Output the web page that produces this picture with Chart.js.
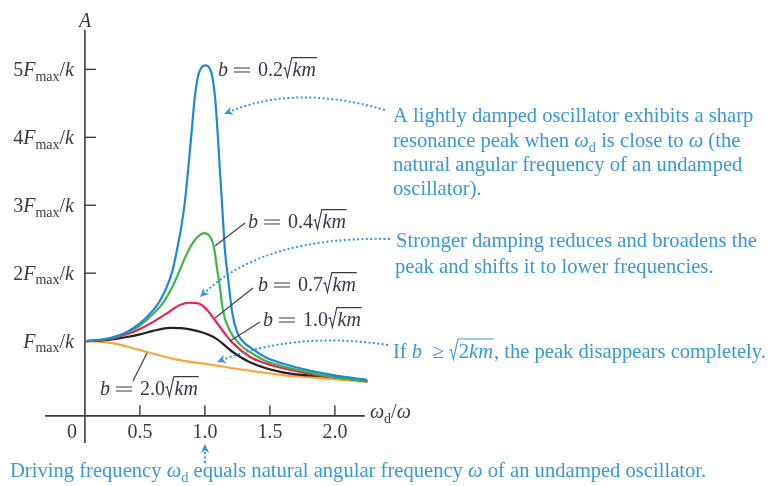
<!DOCTYPE html>
<html>
<head>
<meta charset="utf-8">
<script src="https://cdn.jsdelivr.net/npm/chart.js@4.4.1/dist/chart.umd.min.js"></script>
<style>
  html, body { margin: 0; padding: 0; background: #ffffff; }
  #c { display: block; }
</style>
</head>
<body>
<canvas id="c" width="775" height="486"></canvas>
<script>
// ---------- data (A in units of Fmax/k versus wd/w) ----------
const b02X = [0.077,0.20,0.30,0.40,0.50,0.60,0.65,0.70,0.75,0.785,0.82,0.846,0.873,0.897,0.92,0.95,1.00,1.05,1.08,1.098,1.114,1.13,1.154,1.18,1.21,1.25,1.30,1.346,1.477,1.60,1.73,1.985,2.246];
const b02Y = [1.00,1.02,1.06,1.135,1.26,1.45,1.58,1.77,2.03,2.34,2.70,3.05,3.56,4.06,4.55,4.92,5.06,4.95,4.55,4.06,3.56,3.08,2.34,1.90,1.42,1.12,0.98,0.91,0.75,0.67,0.60,0.50,0.43];

const b04X = [0.077,0.20,0.30,0.40,0.50,0.60,0.677,0.75,0.808,0.85,0.908,0.96,1.00,1.035,1.062,1.077,1.092,1.115,1.138,1.19,1.27,1.38,1.477,1.60,1.73,1.985,2.246];
const b04Y = [1.00,1.02,1.056,1.125,1.23,1.40,1.56,1.80,2.05,2.24,2.45,2.56,2.59,2.55,2.44,2.30,2.09,1.80,1.46,1.16,0.95,0.80,0.70,0.63,0.57,0.47,0.41];

const b07X = [0.077,0.20,0.30,0.40,0.50,0.60,0.70,0.808,0.88,0.94,0.985,1.038,1.092,1.15,1.215,1.346,1.47,1.60,1.862,2.115,2.25];
const b07Y = [1.00,1.015,1.045,1.10,1.18,1.28,1.40,1.53,1.565,1.56,1.52,1.41,1.27,1.12,0.97,0.77,0.67,0.60,0.50,0.45,0.41];

const b10X = [0.077,0.20,0.30,0.40,0.50,0.60,0.731,0.82,0.938,1.02,1.092,1.215,1.346,1.60,1.985,2.25];
const b10Y = [1.00,1.012,1.03,1.06,1.10,1.15,1.195,1.19,1.15,1.10,1.03,0.84,0.69,0.54,0.47,0.41];

const b20X = [0.077,0.20,0.292,0.40,0.554,0.808,1.062,1.215,1.60,1.985,2.25];
const b20Y = [1.00,0.99,0.97,0.92,0.84,0.72,0.65,0.60,0.50,0.44,0.40];

const seriesColors = ['#1e88d2', '#3db54a', '#e8234f', '#222222', '#f7a73a'];

const xTickValues = [0.5, 1.0, 1.5, 2.0];
const xTickLabels = ['0.5', '1.0', '1.5', '2.0'];
const yTickValues = [1, 2, 3, 4, 5];
const yTickCoef   = ['', '2', '3', '4', '5'];

// ---------- helpers ----------
const SERIF = '"Liberation Serif","Times New Roman",Times,serif';
function pts(xs, ys) { return xs.map((x, i) => ({ x: x, y: ys[i] })); }

function fontFor(style, size) {
  const sub = (style === 'sub' || style === 'subi');
  const it = (style === 'i' || style === 'subi');
  const s = sub ? size * 0.7 : size;
  return (it ? 'italic ' : '') + s.toFixed(1) + 'px ' + SERIF;
}
function radParts(text) {
  const out = [];
  for (const ch of text) {
    const st = /[0-9]/.test(ch) ? 'r' : 'i';
    if (out.length && out[out.length - 1][1] === st) out[out.length - 1][0] += ch;
    else out.push([ch, st]);
  }
  return out;
}
function segWidth(ctx, seg, size) {
  const [t, st] = seg;
  if (st === 'rad') {
    let w = 0;
    for (const p of radParts(t)) { ctx.font = fontFor(p[1], size); w += ctx.measureText(p[0]).width; }
    return w + size * 0.48 + size * 0.04;
  }
  if (st === 'gap') return size * parseFloat(t);
  if (st === 'eq') return size * 0.8;
  ctx.font = fontFor(st, size);
  return ctx.measureText(t).width;
}
function drawRich(ctx, segs, x, y, size, color, align) {
  let total = 0;
  for (const s of segs) total += segWidth(ctx, s, size);
  let cx = x;
  if (align === 'right') cx = x - total;
  else if (align === 'center') cx = x - total / 2;
  ctx.save();
  ctx.fillStyle = color; ctx.strokeStyle = color;
  ctx.textBaseline = 'alphabetic'; ctx.textAlign = 'left';
  for (const s of segs) {
    const [t, st] = s;
    if (st === 'gap') { cx += size * parseFloat(t); continue; }
    if (st === 'eq') {
      ctx.lineWidth = 1.2;
      ctx.beginPath();
      ctx.moveTo(cx, y - size * 0.20); ctx.lineTo(cx + size * 0.8, y - size * 0.20);
      ctx.moveTo(cx, y - size * 0.40); ctx.lineTo(cx + size * 0.8, y - size * 0.40);
      ctx.stroke();
      cx += size * 0.8;
      continue;
    }
    if (st === 'rad') {
      const r0 = cx;
      let w = 0;
      const parts = radParts(t);
      for (const p of parts) { ctx.font = fontFor(p[1], size); w += ctx.measureText(p[0]).width; }
      ctx.lineWidth = 1.1;
      ctx.beginPath();
      ctx.moveTo(r0 + size * 0.03, y - size * 0.36);
      ctx.lineTo(r0 + size * 0.11, y - size * 0.42);
      ctx.lineTo(r0 + size * 0.22, y + size * 0.06);
      ctx.lineTo(r0 + size * 0.44, y - size * 0.92);
      ctx.lineTo(r0 + size * 0.48 + w + size * 0.04, y - size * 0.92);
      ctx.stroke();
      let px = r0 + size * 0.48;
      for (const p of parts) {
        ctx.font = fontFor(p[1], size);
        ctx.fillText(p[0], px, y);
        px += ctx.measureText(p[0]).width;
      }
      cx = px + size * 0.04;
      continue;
    }
    ctx.font = fontFor(st, size);
    const dy = (st === 'sub' || st === 'subi') ? size * 0.24 : 0;
    ctx.fillText(t, cx, y + dy);
    cx += ctx.measureText(t).width;
  }
  ctx.restore();
}
function dottedArrow(ctx, p0, c, p2, color) {
  ctx.save();
  ctx.strokeStyle = color; ctx.fillStyle = color;
  ctx.lineWidth = 2; ctx.setLineDash([2, 2.4]);
  const dx = p2[0] - c[0], dy = p2[1] - c[1];
  const L = Math.hypot(dx, dy), ux = dx / L, uy = dy / L;
  const tipBack = [p2[0] - ux * 6, p2[1] - uy * 6];
  ctx.beginPath();
  ctx.moveTo(p0[0], p0[1]);
  ctx.quadraticCurveTo(c[0], c[1], tipBack[0], tipBack[1]);
  ctx.stroke();
  ctx.setLineDash([]);
  const hl = 9, hw = 4.2;
  ctx.beginPath();
  ctx.moveTo(p2[0], p2[1]);
  ctx.lineTo(p2[0] - ux * hl - uy * hw, p2[1] - uy * hl + ux * hw);
  ctx.lineTo(p2[0] - ux * hl * 0.7, p2[1] - uy * hl * 0.7);
  ctx.lineTo(p2[0] - ux * hl + uy * hw, p2[1] - uy * hl - ux * hw);
  ctx.closePath();
  ctx.fill();
  ctx.restore();
}
function line(ctx, x1, y1, x2, y2, color, w) {
  ctx.save(); ctx.strokeStyle = color; ctx.lineWidth = w;
  ctx.beginPath(); ctx.moveTo(x1, y1); ctx.lineTo(x2, y2); ctx.stroke(); ctx.restore();
}

const AXIS = '#3a3a3a';
const LABEL = '#34384c';
const NOTE = '#3897d6';

const axesPlugin = {
  id: 'customAxes',
  beforeDatasetsDraw(chart) {
    const ctx = chart.ctx, xs = chart.scales.x, ys = chart.scales.y;
    const yAxisX = xs.getPixelForValue(0.077);
    const xAxisY = ys.getPixelForValue(-0.1);
    line(ctx, xs.getPixelForValue(xs.min), xAxisY, xs.getPixelForValue(2.23), xAxisY, AXIS, 1.6);
    line(ctx, yAxisX, ys.getPixelForValue(ys.max), yAxisX, ys.getPixelForValue(ys.min), AXIS, 1.6);
    xTickValues.forEach(v => {
      const p = xs.getPixelForValue(v);
      line(ctx, p, xAxisY, p, xAxisY - 10.5, AXIS, 1.4);
    });
    yTickValues.forEach(v => {
      const p = ys.getPixelForValue(v);
      line(ctx, yAxisX, p, yAxisX + 11, p, AXIS, 1.4);
    });
  },
  afterDatasetsDraw(chart) {
    const ctx = chart.ctx, xs = chart.scales.x, ys = chart.scales.y;
    const S = 20, N = 20.6;
    xTickValues.forEach((v, i) => {
      drawRich(ctx, [[xTickLabels[i], 'r']], xs.getPixelForValue(v), 438, S, AXIS, 'center');
    });
    drawRich(ctx, [['0', 'r']], xs.getPixelForValue(0) - 3, 438, S, AXIS, 'center');
    yTickValues.forEach((v, i) => {
      const segs = [];
      if (yTickCoef[i]) segs.push([yTickCoef[i], 'r']);
      segs.push(['F', 'i'], ['max', 'sub'], ['/', 'r'], ['k', 'i']);
      drawRich(ctx, segs, 74, ys.getPixelForValue(v) + 6.5, S, AXIS, 'right');
    });
    drawRich(ctx, [['A', 'i']], 85, 27, S, AXIS, 'center');
    drawRich(ctx, [['\u03c9', 'i'], ['d', 'sub'], ['/', 'r'], ['\u03c9', 'i']], 370, 418, S, AXIS, 'left');

    const lab = (txt, x, y) => drawRich(ctx, [['b', 'i'], ['0.3', 'gap'], ['', 'eq'], ['0.4', 'gap'], [txt, 'r'], ['km', 'rad']], x, y, S, LABEL, 'left');
    lab('0.2', 218, 76);
    lab('0.4', 248, 228);
    lab('0.7', 258, 291);
    lab('1.0', 263, 326);
    lab('2.0', 100, 395);
    line(ctx, 215, 246, 245, 223, '#444', 1.3);
    line(ctx, 215, 318, 253, 288, '#444', 1.3);
    line(ctx, 230, 341, 260, 322, '#444', 1.3);
    line(ctx, 133, 381, 147, 353, '#444', 1.3);

    const w = ['\u03c9', 'i'], d = ['d', 'sub'];
    drawRich(ctx, [['A lightly damped oscillator exhibits a sharp', 'r']], 393, 122, N, NOTE, 'left');
    drawRich(ctx, [['resonance peak when ', 'r'], w, d, [' is close to ', 'r'], w, [' (the', 'r']], 393, 147, N, NOTE, 'left');
    drawRich(ctx, [['natural angular frequency of an undamped', 'r']], 393, 171, N, NOTE, 'left');
    drawRich(ctx, [['oscillator).', 'r']], 393, 195, N, NOTE, 'left');
    drawRich(ctx, [['Stronger damping reduces and broadens the', 'r']], 396, 247, N, NOTE, 'left');
    drawRich(ctx, [['peak and shifts it to lower frequencies.', 'r']], 395, 273, N, NOTE, 'left');
    drawRich(ctx, [['If ', 'r'], ['b', 'i'], ['  \u2265 ', 'r'], ['2km', 'rad'], [', the peak disappears completely.', 'r']], 393, 358, N, NOTE, 'left');
    drawRich(ctx, [['Driving frequency ', 'r'], w, d, [' equals natural angular frequency ', 'r'], w, [' of an undamped oscillator.', 'r']], 10, 477, N, NOTE, 'left');

    dottedArrow(ctx, [385, 110], [296, 84], [224, 114], NOTE);
    dottedArrow(ctx, [390, 239], [265, 236], [200, 297], NOTE);
    dottedArrow(ctx, [388, 345], [297, 331], [217, 362], NOTE);
    dottedArrow(ctx, [205, 463], [205, 455], [205, 444], NOTE);
  }
};

const mk = (xs, ys, c) => ({
  data: pts(xs, ys), borderColor: c, borderWidth: 2.2, pointRadius: 0,
  fill: false, cubicInterpolationMode: 'monotone'
});

new Chart(document.getElementById('c'), {
  type: 'line',
  data: {
    datasets: [
      mk(b02X, b02Y, seriesColors[0]),
      mk(b04X, b04Y, seriesColors[1]),
      mk(b07X, b07Y, seriesColors[2]),
      mk(b10X, b10Y, seriesColors[3]),
      mk(b20X, b20Y, seriesColors[4])
    ]
  },
  options: {
    responsive: false,
    animation: false,
    devicePixelRatio: 1,
    layout: { padding: { left: 45, right: 405, top: 30, bottom: 43 } },
    plugins: { legend: { display: false }, tooltip: { enabled: false } },
    scales: {
      x: { type: 'linear', min: -0.23, max: 2.27, display: false },
      y: { type: 'linear', min: -0.5, max: 5.58, display: false }
    }
  },
  plugins: [axesPlugin]
});
</script>
</body>
</html>
